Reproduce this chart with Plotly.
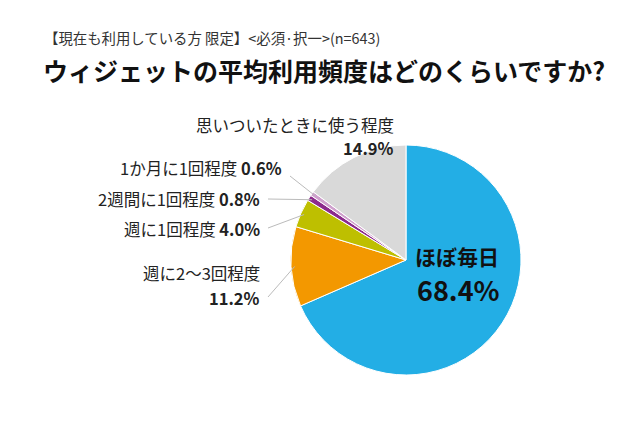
import math
import plotly.graph_objects as go

categories = ["ほぼ毎日", "週に2〜3回程度", "週に1回程度", "2週間に1回程度", "1か月に1回程度", "思いついたときに使う程度"]
values = [68.4, 11.2, 4.0, 0.8, 0.6, 14.9]
colors = ["#23AEE5", "#F39800", "#BEBF00", "#8C2A8C", "#CFA0CD", "#D9D9D9"]

W, H = 640, 427
OFF = 8  # page body margin
CX, CY, R = 406, 260, 115  # pie center / radius in page pixels


def px(x):
    return (x - OFF) / W


def py(y):
    return (H - (y - OFF)) / H


fig = go.Figure(go.Pie(
    labels=categories, values=values, sort=False, direction="clockwise", rotation=0,
    marker=dict(colors=colors, line=dict(color="white", width=1)),
    textinfo="none", hoverinfo="label+percent", showlegend=False,
    domain=dict(x=[px(CX - R), px(CX + R)], y=[py(CY + R), py(CY - R)]),
))

FONT = "Noto Sans CJK JP"
ann = []
shapes = []


def edge_point(i, frac=1.0):
    total = sum(values)
    cum = sum(values[:i]) + values[i] / 2
    th = 2 * math.pi * cum / total
    return CX + R * frac * math.sin(th), CY - R * frac * math.cos(th)


ann.append(dict(x=px(42), y=py(38), xref="paper", yref="paper", xanchor="left", yanchor="middle",
                text="【現在も利用している方 限定】<必須·択一>(n=643)", showarrow=False,
                font=dict(family=FONT, size=14.4, color="#333333")))
ann.append(dict(x=px(41), y=py(70), xref="paper", yref="paper", xanchor="left", yanchor="middle",
                text="<b>ウィジェットの平均利用頻度はどのくらいですか?</b>", showarrow=False,
                font=dict(family=FONT, size=25, color="#111111")))

ann.append(dict(x=px(457), y=py(256), xref="paper", yref="paper", xanchor="center", yanchor="middle",
                text="<b>ほぼ毎日</b>", showarrow=False, font=dict(family=FONT, size=21, color="#111111")))
ann.append(dict(x=px(458), y=py(289), xref="paper", yref="paper", xanchor="center", yanchor="middle",
                text="<b>68.4%</b>", showarrow=False, font=dict(family=FONT, size=27, color="#111111")))


def lab(text, x, y, size=16.5):
    ann.append(dict(x=px(x), y=py(y), xref="paper", yref="paper", xanchor="right", yanchor="middle",
                    align="right", text=text, showarrow=False,
                    font=dict(family=FONT, size=size, color="#222222")))


lab("思いついたときに使う程度", 396, 125)
lab("<b>14.9%</b>", 396, 148)
lab("1か月に1回程度 <b>0.6%</b>", 284, 168)
lab("2週間に1回程度 <b>0.8%</b>", 262, 199)
lab("週に1回程度 <b>4.0%</b>", 262, 229)
lab("週に2〜3回程度", 262, 273)
lab("<b>11.2%</b>", 262, 298)


def leader(i, x0, y0, frac=0.97):
    x1, y1 = edge_point(i, frac)
    shapes.append(dict(type="line", xref="paper", yref="paper", x0=px(x0), y0=py(y0), x1=px(x1), y1=py(y1),
                       line=dict(color="#BBBBBB", width=1)))


leader(4, 290, 176)
leader(3, 268, 199)
leader(2, 268, 228)
leader(1, 268, 297)

fig.update_layout(width=W, height=H, margin=dict(l=0, r=0, t=0, b=0),
                  paper_bgcolor="white", plot_bgcolor="white",
                  annotations=ann, shapes=shapes)
fig.write_html("out.html")
